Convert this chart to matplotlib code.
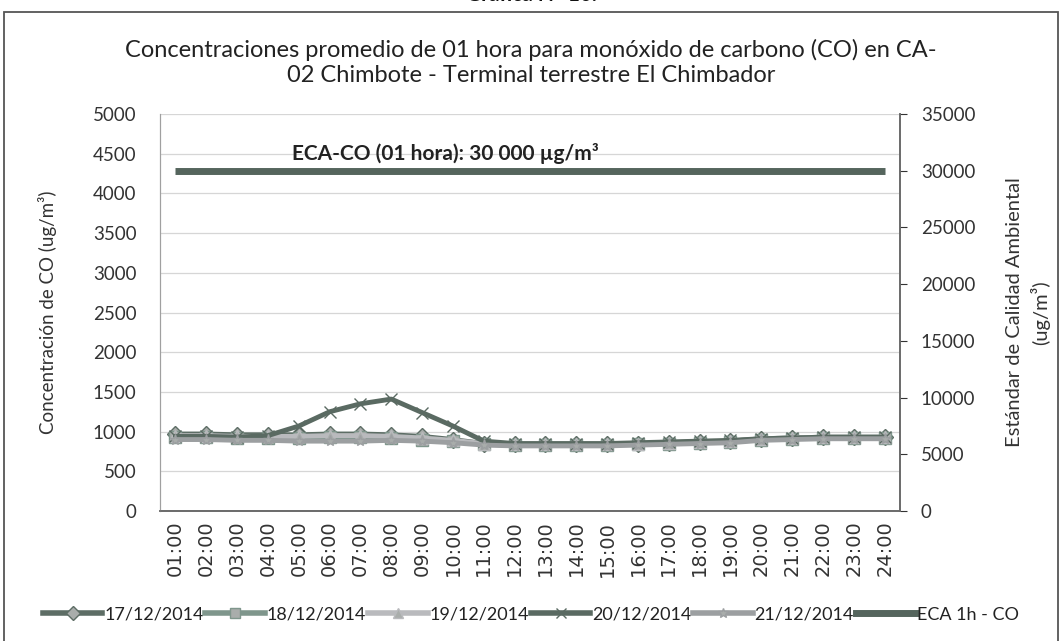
import matplotlib.pyplot as plt
from matplotlib.lines import Line2D
from matplotlib.patches import Rectangle

plt.rcParams['font.family'] = ['Lato', 'DejaVu Sans']

hours = [f"{h:02d}:00" for h in range(1, 25)]

d17 = [970, 970, 960, 960, 960, 970, 970, 960, 940, 900, 850, 840, 840, 840, 840, 850, 860, 870, 880, 910, 920, 930, 930, 930]
d18 = [930, 930, 920, 920, 920, 930, 930, 920, 900, 880, 840, 830, 830, 830, 830, 840, 850, 860, 870, 900, 910, 920, 920, 920]
d19 = [950, 950, 940, 940, 940, 950, 950, 940, 920, 890, 850, 840, 840, 840, 840, 850, 860, 870, 880, 910, 920, 930, 930, 930]
d20 = [940, 940, 930, 950, 1070, 1250, 1350, 1410, 1240, 1070, 880, 850, 850, 850, 850, 860, 870, 880, 890, 910, 920, 930, 930, 930]
d21 = [900, 900, 890, 890, 880, 880, 880, 890, 880, 860, 830, 820, 820, 820, 820, 830, 840, 850, 860, 890, 900, 910, 910, 910]
eca = [30000] * 24

series = [
    ("17/12/2014", d17, "#5d6d65", "D"),
    ("18/12/2014", d18, "#7f968c", "s"),
    ("19/12/2014", d19, "#b9babd", "^"),
    ("20/12/2014", d20, "#5a6a62", "x"),
    ("21/12/2014", d21, "#9c9fa1", "*"),
]
eca_color = "#55655d"

fig = plt.figure(figsize=(10.62, 6.41), dpi=100)
# plot area: x 160..900 px, y 114..511 px
ax = fig.add_axes([0.1507, 0.2028, 0.6968, 0.6193])
ax2 = ax.twinx()

x = list(range(len(hours)))
handles = []
for label, vals, col, mk in series:
    ax.plot(x, vals, color=col, lw=3.5, marker=mk, markersize=8,
            markerfacecolor="#a9adab", markeredgecolor=col, markeredgewidth=1)
    handles.append(Line2D([0], [0], color=col, lw=4, marker=mk, markersize=7,
                          markerfacecolor="#a9adab", markeredgecolor=col, label=label))

ax2.plot(x, eca, color=eca_color, lw=5, solid_capstyle="butt")
handles.append(Line2D([0], [0], color=eca_color, lw=5, label="ECA 1h - CO"))

ax.set_xlim(-0.5, len(hours) - 0.5)
ax.set_ylim(0, 5000)
ax.set_yticks(range(0, 5001, 500))
ax2.set_ylim(0, 35000)
ax2.set_yticks(range(0, 35001, 5000))
ax.set_xticks(x)
ax.set_xticklabels(hours, rotation=90, fontsize=14, color="#333333", family="DejaVu Sans")
ax.tick_params(axis="x", length=0, pad=7)
ax.tick_params(axis="y", labelsize=13.5, colors="#333333", length=0, pad=17)
ax2.tick_params(axis="y", labelsize=13.5, colors="#333333", length=5, direction="out", pad=10)

ax.grid(axis="y", color="#d6d6d6", lw=0.9)
ax.set_axisbelow(True)
for a in (ax, ax2):
    a.spines["top"].set_visible(False)
    a.spines["left"].set_color("#a0a0a0")
    a.spines["right"].set_color("#6a6a6a")
    a.spines["bottom"].set_color("#6a6a6a")
    a.spines["right"].set_linewidth(1.2)
    a.spines["bottom"].set_linewidth(1.2)

ax.set_ylabel("Concentración de CO (ug/m³)", fontsize=13.5, color="#333333", labelpad=26)
ax2.set_ylabel("Estándar de Calidad Ambiental\n(ug/m³)", fontsize=14.5, color="#333333",
               labelpad=22, linespacing=1.4)

ax.text(0.178, 0.9, "ECA-CO (01 hora): 30 000 µg/m³", transform=ax.transAxes,
        fontsize=15, fontweight="bold", color="#222222", va="center", ha="left")

fig.text(0.5, 0.903,
         "Concentraciones promedio de 01 hora para monóxido de carbono (CO) en CA-\n02 Chimbote - Terminal terrestre El Chimbador",
         ha="center", va="center", fontsize=17, color="#222222", linespacing=1.25)

fig.text(0.5, 1.008, "Gráfica N° 10.", ha="center", va="center", fontsize=15,
         fontweight="bold", color="#111111")

fig.legend(handles=handles, loc="center", bbox_to_anchor=(0.5, 0.041), ncol=6,
           frameon=False, fontsize=13, handlelength=3.3, handletextpad=0.1,
           columnspacing=0.1, labelcolor="#222222")

fig.patches.append(Rectangle((0.004, -0.01), 0.992, 0.991, transform=fig.transFigure,
                             fill=False, edgecolor="#555555", lw=1.3))

fig.savefig("out.png", dpi=100)
